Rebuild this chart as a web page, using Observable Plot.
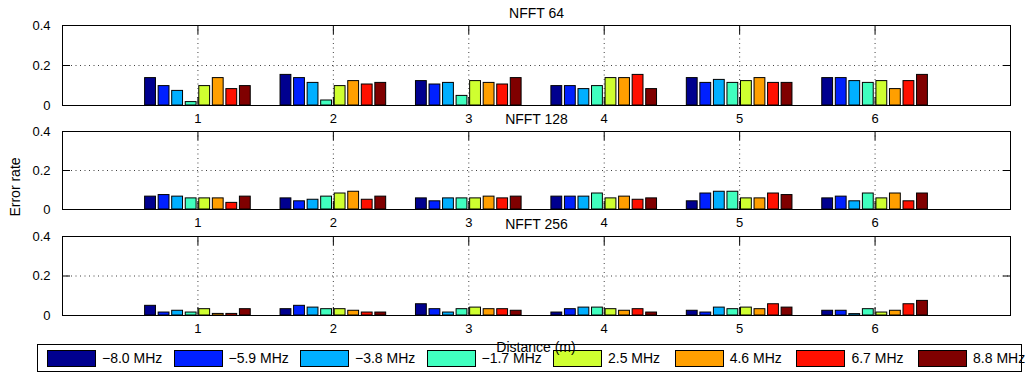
<!DOCTYPE html>
<html><head><meta charset="utf-8">
<script src="https://cdn.jsdelivr.net/npm/d3@7"></script>
<script src="https://cdn.jsdelivr.net/npm/@observablehq/plot@0.6"></script>
<style>
body{margin:0;background:#fff;font-family:"Liberation Sans",Arial,sans-serif;}
#wrap{position:relative;width:1025px;height:376px;overflow:hidden;background:#fff;}
.panel{position:absolute;left:0;}
#legend{position:absolute;left:37px;top:344px;width:985px;height:28px;border:1px solid #000;box-sizing:border-box;display:flex;align-items:center;padding-left:9px;font-size:14px;color:#000;}
.item{display:flex;align-items:center;}
.sw{width:47px;height:15px;border:1px solid #000;box-sizing:content-box;}
.lab{margin-left:6px;white-space:nowrap;box-sizing:border-box;}
.lab.neg{width:71.5px;}
.lab.pos{width:66.7px;}
#xlabel{position:absolute;left:536px;top:339px;transform:translateX(-50%);font-size:14px;line-height:16px;z-index:5;color:#000;}
#ylabel{position:absolute;left:15px;top:187px;transform:translate(-50%,-50%) rotate(-90deg);font-size:14px;white-space:nowrap;color:#000;}
</style></head><body><div id="wrap"></div>
<script>
// ---- data ----
const distances = [1, 2, 3, 4, 5, 6];
const frequencies = ["\u22128.0 MHz", "\u22125.9 MHz", "\u22123.8 MHz", "\u22121.7 MHz", "2.5 MHz", "4.6 MHz", "6.7 MHz", "8.8 MHz"];
const colors = ["#00008f", "#0020ff", "#00afff", "#40ffbf", "#cfff30", "#ff9f00", "#ff1000", "#800000"];
const yTicks = [0, 0.2, 0.4];
const titles = ["NFFT 64", "NFFT 128", "NFFT 256"];
// rows = distance 1..6, columns = frequency offsets
const nfft64 = [
  [0.137, 0.097, 0.073, 0.017, 0.097, 0.137, 0.082, 0.097],
  [0.153, 0.137, 0.113, 0.025, 0.097, 0.122, 0.105, 0.113],
  [0.122, 0.105, 0.113, 0.048, 0.122, 0.113, 0.105, 0.137],
  [0.097, 0.097, 0.082, 0.097, 0.137, 0.137, 0.153, 0.082],
  [0.137, 0.113, 0.128, 0.113, 0.122, 0.137, 0.113, 0.113],
  [0.137, 0.137, 0.122, 0.113, 0.122, 0.082, 0.122, 0.153]
];
const nfft128 = [
  [0.066, 0.074, 0.066, 0.057, 0.057, 0.057, 0.034, 0.066],
  [0.057, 0.042, 0.050, 0.066, 0.082, 0.091, 0.050, 0.066],
  [0.057, 0.042, 0.057, 0.057, 0.057, 0.066, 0.057, 0.066],
  [0.066, 0.066, 0.066, 0.082, 0.057, 0.066, 0.050, 0.057],
  [0.042, 0.082, 0.091, 0.091, 0.057, 0.057, 0.082, 0.074],
  [0.057, 0.066, 0.042, 0.082, 0.057, 0.082, 0.042, 0.082]
];
const nfft256 = [
  [0.049, 0.015, 0.024, 0.015, 0.032, 0.008, 0.008, 0.032],
  [0.032, 0.049, 0.040, 0.032, 0.032, 0.024, 0.015, 0.015],
  [0.057, 0.032, 0.015, 0.032, 0.040, 0.032, 0.032, 0.024],
  [0.015, 0.032, 0.040, 0.040, 0.032, 0.024, 0.032, 0.015],
  [0.024, 0.015, 0.040, 0.032, 0.040, 0.032, 0.057, 0.040],
  [0.024, 0.024, 0.007, 0.032, 0.015, 0.024, 0.057, 0.074]
];

// ---- layout ----
const panelSpecs = [
  {title: titles[0], values: nfft64, top: 0, boxH: 80},
  {title: titles[1], values: nfft128, top: 106, boxH: 78},
  {title: titles[2], values: nfft256, top: 211, boxH: 79}
];
const step = 0.1, barW = 0.08;
const wrap = document.getElementById("wrap");

panelSpecs.forEach(p => {
  const rows = [];
  p.values.forEach((vals, gi) => vals.forEach((v, si) => rows.push({d: distances[gi], s: si, v})));
  const mT = 25, mB = 22;
  const chart = Plot.plot({
    width: 1025,
    height: mT + p.boxH + mB,
    marginLeft: 62, marginRight: 15, marginTop: mT, marginBottom: mB,
    style: {background: "transparent", fontSize: "13px", fontFamily: "'Liberation Sans', Arial, sans-serif", overflow: "visible", color: "#000"},
    x: {domain: [0, 7]},
    y: {domain: [0, 0.4]},
    marks: [
      Plot.gridX(distances, {stroke: "#000", strokeOpacity: 0.75, strokeDasharray: "1,3.5"}),
      Plot.gridY([0.2], {stroke: "#000", strokeOpacity: 0.75, strokeDasharray: "1,3.5"}),
      Plot.rectY(rows, {
        x1: r => r.d + (r.s - 3.5) * step - barW / 2,
        x2: r => r.d + (r.s - 3.5) * step + barW / 2,
        y1: 0, y2: "v",
        fill: r => colors[r.s], stroke: "#000", strokeWidth: 1
      }),
      Plot.frame({stroke: "#000"}),
      Plot.axisX(distances, {anchor: "bottom", tickSize: -8, tickFormat: () => "", label: null}),
      Plot.axisX(distances, {anchor: "top", tickSize: -8, tickFormat: () => "", label: null}),
      Plot.axisY(yTicks, {anchor: "left", tickSize: -8, tickFormat: () => "", label: null}),
      Plot.axisY(yTicks, {anchor: "right", tickSize: -8, tickFormat: () => "", label: null}),
      Plot.axisX(distances, {anchor: "bottom", tickSize: 0, tickPadding: 8, label: null, tickFormat: d => String(d)}),
      Plot.axisY(yTicks, {anchor: "left", tickSize: 0, tickPadding: 12, label: null, tickFormat: d => String(d)}),
      Plot.text([p.title], {frameAnchor: "top", dy: -8, lineAnchor: "bottom", fontSize: 14, fill: "#000"})
    ]
  });
  chart.classList.add("panel");
  chart.style.top = p.top + "px";
  wrap.appendChild(chart);
});

// legend
const legend = document.createElement("div");
legend.id = "legend";
frequencies.forEach((f, i) => {
  const it = document.createElement("div");
  it.className = "item";
  const sw = document.createElement("div");
  sw.className = "sw";
  sw.style.background = colors[i];
  const lab = document.createElement("span");
  lab.className = "lab " + (f.startsWith("\u2212") ? "neg" : "pos");
  lab.textContent = f;
  it.appendChild(sw); it.appendChild(lab);
  legend.appendChild(it);
});
wrap.appendChild(legend);

const xl = document.createElement("div");
xl.id = "xlabel"; xl.textContent = "Distance (m)";
wrap.appendChild(xl);
const yl = document.createElement("div");
yl.id = "ylabel"; yl.textContent = "Error rate";
wrap.appendChild(yl);
</script></body></html>
